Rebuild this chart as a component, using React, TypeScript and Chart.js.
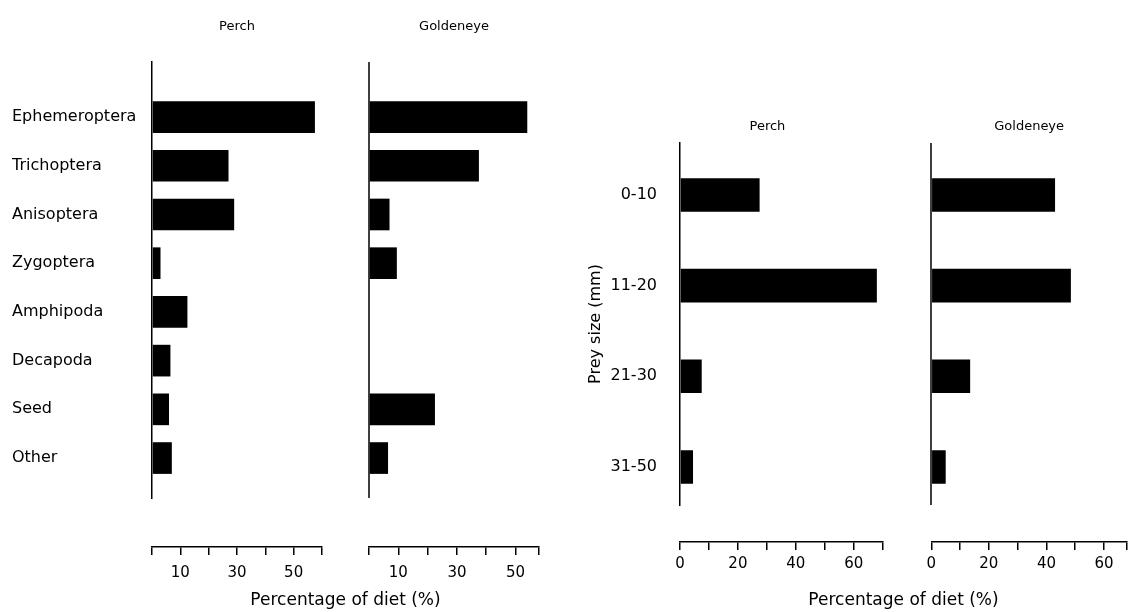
import React, { useEffect, useRef } from 'react';
import { Chart, registerables } from 'chart.js';

Chart.register(...registerables);

// ---------------- data ----------------
const preyTaxa = ['Ephemeroptera', 'Trichoptera', 'Anisoptera', 'Zygoptera', 'Amphipoda', 'Decapoda', 'Seed', 'Other'];
const perchTaxaPct = [57.5, 27, 29, 3, 12.5, 6.5, 6, 7];
const goldeneyeTaxaPct = [54, 37.5, 7, 9.5, 0, 0, 22.5, 6.5];

const preySizes = ['0-10', '11-20', '21-30', '31-50'];
const perchSizePct = [27.5, 68, 7.5, 4.5];
const goldeneyeSizePct = [43, 48.5, 13.5, 5];

const taxaTickLabels = [10, 30, 50];
const sizeTickLabels = [0, 20, 40, 60];
const panelTitles = ['Perch', 'Goldeneye'];
const valueAxisTitle = 'Percentage of diet (%)';
const sizeAxisTitle = 'Prey size (mm)';

// ---------------- styling helpers ----------------
const FONT_FAMILY = "'DejaVu Sans', 'Liberation Sans', Arial, sans-serif";
const INK = '#000';
Chart.defaults.font.family = FONT_FAMILY;
Chart.defaults.color = INK;

type AnyObj = Record<string, any>;

function tenStepTicks(axis: any) {
  const ticks: { value: number }[] = [];
  for (let v = axis.min; v <= axis.max + 1e-6; v += 10) ticks.push({ value: v });
  if (axis.max - ticks[ticks.length - 1].value > 1e-6) ticks.push({ value: axis.max });
  axis.ticks = ticks;
}

function valueAxis(max: number, weight: number, height: number, shown: number[], fontSize: number, padding: number) {
  return {
    type: 'linear',
    position: 'bottom',
    stack: 'values',
    stackWeight: weight,
    weight: 0,
    min: 0,
    max,
    afterBuildTicks: tenStepTicks,
    afterFit: (s: any) => {
      s.height = height;
    },
    grid: { display: true, drawOnChartArea: false, drawTicks: true, tickLength: 8, tickWidth: 1.5, color: INK, tickColor: INK, lineWidth: 1.5 },
    border: { display: true, color: INK, width: 1.5 },
    ticks: {
      autoSkip: false,
      maxRotation: 0,
      minRotation: 0,
      padding,
      color: INK,
      font: { size: fontSize },
      callback: (v: any) => (shown.includes(Number(v)) ? String(v) : ''),
    },
  };
}

function blankAxis(position: string, size: number, extra: AnyObj = {}) {
  return {
    type: 'linear',
    position,
    min: 0,
    max: 1,
    offset: false,
    ticks: { display: false },
    grid: { display: false, drawTicks: false, drawOnChartArea: false, offset: false },
    border: { display: false },
    afterFit: (s: any) => {
      if (s.isHorizontal()) s.height = size;
      else s.width = size;
    },
    ...extra,
  };
}

function titleOpts(text: string, size: number, padding: AnyObj) {
  return { display: true, text, color: INK, font: { size }, padding };
}

// draws the zero line of the second panel (same role as the first panel's axis border)
const innerAxisLine = {
  id: 'innerAxisLine',
  beforeDatasetsDraw(chart: any, _args: any, opts: any) {
    const xs = chart.scales[opts.scaleId];
    const ys = chart.scales.y;
    if (!xs || !ys) return;
    const ctx = chart.ctx;
    const x = Math.round(xs.getPixelForValue(0));
    ctx.save();
    ctx.strokeStyle = INK;
    ctx.lineWidth = 1.5;
    ctx.beginPath();
    ctx.moveTo(x, ys.top);
    ctx.lineTo(x, ys.bottom);
    ctx.stroke();
    ctx.restore();
  },
};

function barSet(label: string, values: number[], xAxisID: string, barPercentage: number) {
  return {
    label,
    data: values.map((v, i) => ({ x: v, y: i })),
    xAxisID,
    yAxisID: 'y',
    backgroundColor: INK,
    borderWidth: 0,
    grouped: false,
    categoryPercentage: 1,
    barPercentage,
  };
}

function buildTaxaConfig(): any {
  return {
    type: 'bar',
    data: {
      datasets: [
        barSet(panelTitles[0], perchTaxaPct, 'x1', 0.65),
        barSet(panelTitles[1], goldeneyeTaxaPct, 'x2', 0.65),
      ],
    },
    options: {
      indexAxis: 'y',
      animation: false,
      responsive: false,
      maintainAspectRatio: false,
      layout: { padding: { left: 12, right: 21, top: 0, bottom: 0 } },
      plugins: { legend: { display: false }, tooltip: { enabled: false }, innerAxisLine: { scaleId: 'x2' } },
      scales: {
        tB: blankAxis('top', 62, { stack: 'titles', stackWeight: 170, title: titleOpts(panelTitles[1], 13, { top: 19, bottom: 0 }) }),
        tG: blankAxis('top', 62, { stack: 'titles', stackWeight: 47 }),
        tA: blankAxis('top', 62, { stack: 'titles', stackWeight: 170, title: titleOpts(panelTitles[0], 13, { top: 19, bottom: 0 }) }),
        x1: valueAxis(60, 170, 40, taxaTickLabels, 15, 9),
        xg: blankAxis('bottom', 40, { stack: 'values', stackWeight: 47 }),
        x2: valueAxis(58, 170, 40, taxaTickLabels, 15, 9),
        xt: blankAxis('bottom', 25, { weight: 1, title: titleOpts(valueAxisTitle, 17, { top: 0, bottom: 1 }) }),
        yg: blankAxis('left', 140, { stack: 'cats', stackWeight: 49 }),
        y: {
          type: 'linear',
          position: 'left',
          stack: 'cats',
          stackWeight: 436,
          reverse: true,
          min: -1.13,
          max: 7.82,
          offset: false,
          afterBuildTicks: (axis: any) => {
            axis.ticks = preyTaxa.map((_, i) => ({ value: i }));
          },
          afterFit: (s: any) => {
            s.width = 140;
          },
          grid: { display: false, drawTicks: false, offset: false },
          border: { display: true, color: INK, width: 1.5 },
          ticks: {
            autoSkip: false,
            crossAlign: 'far',
            padding: 0,
            color: INK,
            font: { size: 16 },
            callback: (v: any) => preyTaxa[Math.round(Number(v))] ?? '',
          },
        },
      },
    },
    plugins: [innerAxisLine],
  };
}

function buildSizeConfig(): any {
  return {
    type: 'bar',
    data: {
      datasets: [
        barSet(panelTitles[0], perchSizePct, 'x3', 0.37),
        barSet(panelTitles[1], goldeneyeSizePct, 'x4', 0.37),
      ],
    },
    options: {
      indexAxis: 'y',
      animation: false,
      responsive: false,
      maintainAspectRatio: false,
      layout: { padding: { left: 0, right: 2, top: 0, bottom: 0 } },
      plugins: { legend: { display: false }, tooltip: { enabled: false }, innerAxisLine: { scaleId: 'x4' } },
      scales: {
        tB: blankAxis('top', 143, { stack: 'titles', stackWeight: 197, title: titleOpts(panelTitles[1], 13, { top: 119, bottom: 0 }) }),
        tG: blankAxis('top', 143, { stack: 'titles', stackWeight: 77 }),
        tA: blankAxis('top', 143, { stack: 'titles', stackWeight: 176, title: titleOpts(panelTitles[0], 13, { top: 119, bottom: 0 }) }),
        x3: valueAxis(70, 204, 35, sizeTickLabels, 15, 5),
        xg: blankAxis('bottom', 35, { stack: 'values', stackWeight: 49 }),
        x4: valueAxis(68, 197, 35, sizeTickLabels, 15, 5),
        xt: blankAxis('bottom', 35, { weight: 1, title: titleOpts(valueAxisTitle, 17, { top: 0, bottom: 1 }) }),
        yg: blankAxis('left', 120, { stack: 'cats', stackWeight: 37 }),
        y: {
          type: 'linear',
          position: 'left',
          stack: 'cats',
          stackWeight: 362,
          reverse: true,
          min: -0.573,
          max: 3.42,
          offset: false,
          afterBuildTicks: (axis: any) => {
            axis.ticks = preySizes.map((_, i) => ({ value: i }));
          },
          afterFit: (s: any) => {
            s.width = 120;
          },
          grid: { display: false, drawTicks: false, offset: false },
          border: { display: true, color: INK, width: 1.5 },
          title: titleOpts(sizeAxisTitle, 16, { top: 26, bottom: 0 }),
          ticks: {
            autoSkip: false,
            padding: 23,
            color: INK,
            font: { size: 16 },
            callback: (v: any) => preySizes[Math.round(Number(v))] ?? '',
          },
        },
      },
    },
    plugins: [innerAxisLine],
  };
}

function ChartCanvas({ build, left, width, height }: { build: () => any; left: number; width: number; height: number }) {
  const ref = useRef<HTMLCanvasElement | null>(null);
  useEffect(() => {
    if (!ref.current) return;
    const chart = new Chart(ref.current, build());
    return () => chart.destroy();
  }, [build]);
  return (
    <canvas
      ref={ref}
      width={width}
      height={height}
      style={{ position: 'absolute', left, top: 0, width, height, display: 'block' }}
    />
  );
}

export default function App() {
  return (
    <div style={{ position: 'fixed', left: 0, top: 0, width: 1132, height: 612, background: '#fff', overflow: 'hidden' }}>
      <ChartCanvas build={buildTaxaConfig} left={0} width={560} height={612} />
      <ChartCanvas build={buildSizeConfig} left={560} width={572} height={612} />
    </div>
  );
}
